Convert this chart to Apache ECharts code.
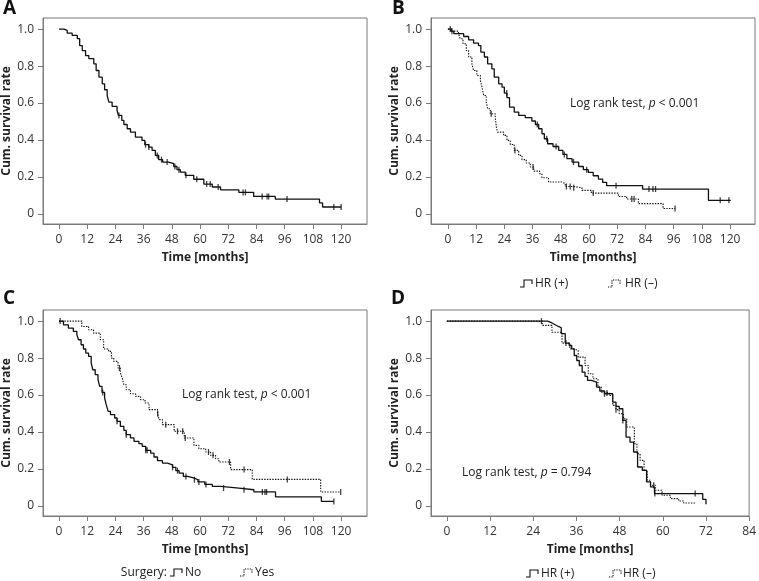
<!DOCTYPE html>
<html><head><meta charset="utf-8">
<script src="https://cdn.jsdelivr.net/npm/echarts@6/dist/echarts.min.js"></script>
<style>html,body{margin:0;padding:0;background:#fff}#c{width:759px;height:581px}</style>
</head><body><div id="c"></div>
<script>
// ---- tick labels ----
const xTicks120 = [0,12,24,36,48,60,72,84,96,108,120];
const xTicks84 = [0,12,24,36,48,60,72,84];
const yTicks = [0,0.2,0.4,0.6,0.8,1.0];

// ---- Panel A: all patients ----
const aTime = [0,2.1,3.5,5.6,7.8,8.8,9.9,11.3,12.7,14.8,15.8,17,18.4,19.4,20.5,21.2,22.6,24.7,25.3,26.7,27.6,29,30.4,32.5,35.3,36.5,38.2,39.6,41,42.4,44.1,46.6,48.8,50.2,51.6,53.7,57.3,61.6,65.2,68.7,76.5,82.8,92,110.8,112.1,120];
const aSurv = [1,0.993,0.978,0.966,0.948,0.911,0.884,0.857,0.84,0.812,0.776,0.74,0.704,0.672,0.641,0.605,0.582,0.56,0.533,0.506,0.484,0.461,0.443,0.416,0.398,0.375,0.362,0.344,0.317,0.294,0.281,0.272,0.257,0.24,0.227,0.209,0.188,0.162,0.146,0.131,0.117,0.095,0.081,0.06,0.038,0.038];
const aCensor = [25.5,36.8,38.2,41.8,43.6,46,49.3,51,54,58.6,62.8,64.3,67.7,78.3,79.3,86.4,88.5,89.2,97,116.9,120];

// ---- Panel B: HR(+) / HR(-) ----
const bPosTime = [0,1.3,2.5,6.7,8.8,10.9,13,14,15.5,16.9,18.7,19.7,21.6,23,24,25.1,26.2,28.2,30.1,32.9,35.7,37.2,38.6,40,41,42.4,44.7,47.1,48.9,50.6,52.8,55.6,57.6,59.7,61.8,64,65.8,67.5,82.8,110.8,120.3];
const bPosSurv = [1,0.989,0.975,0.96,0.942,0.924,0.911,0.875,0.849,0.812,0.785,0.74,0.704,0.686,0.654,0.629,0.578,0.551,0.533,0.521,0.503,0.484,0.461,0.434,0.407,0.38,0.365,0.344,0.322,0.299,0.281,0.257,0.24,0.225,0.207,0.189,0.171,0.153,0.135,0.074,0.074];
const bPosCensor = [1,25,38,42,46,49.5,53.4,59,71.5,85.5,87.2,88.3,115.8,119.5];
const bNegTime = [0,1.7,4.5,5.2,6.4,7.8,8.8,10.2,10.9,12.3,13.8,14.5,15.2,16.3,16.9,18,20.1,20.6,21.1,23.7,25.1,26.5,28.2,30.1,31.5,33.3,35,36.5,39,40,42.8,48.5,49.9,53.5,57,61,72.5,76,81,91.5,96.6];
const bNegSurv = [1,0.989,0.975,0.948,0.921,0.884,0.849,0.812,0.776,0.749,0.722,0.686,0.641,0.605,0.569,0.542,0.524,0.47,0.443,0.425,0.398,0.376,0.344,0.317,0.294,0.276,0.254,0.232,0.218,0.196,0.173,0.164,0.149,0.142,0.128,0.113,0.095,0.081,0.056,0.03,0.03];
const bNegCensor = [1.7,18.4,28.5,36.2,50.4,52,53.5,61.8,78.2,79.2,96.6];

// ---- Panel C: Surgery No / Yes ----
const cNoTime = [0,1.9,4,6.1,7.6,8.3,9.4,10.4,11.4,12.6,13.7,14.4,15.4,16.6,17.3,18.3,19.4,20.1,20.9,21.9,23.7,24.7,26.1,27.6,28.6,30.4,31.9,34,35.4,36.9,39,40.4,41.9,44,46.1,48.3,49.7,51.1,52.9,54.7,57.6,59.1,62,65.2,68.8,76.5,82.9,92.1,111.6,116.9];
const cNoSurv = [1,0.98,0.962,0.944,0.926,0.899,0.872,0.849,0.827,0.809,0.773,0.737,0.71,0.683,0.647,0.614,0.584,0.548,0.512,0.494,0.476,0.458,0.431,0.409,0.386,0.368,0.35,0.337,0.323,0.301,0.286,0.265,0.245,0.232,0.223,0.209,0.191,0.178,0.16,0.151,0.142,0.13,0.117,0.106,0.097,0.088,0.076,0.049,0.025,0.025];
const cNoCensor = [0.5,18.6,24.7,28.6,36.9,37.5,48.3,50.4,54,57.6,59.5,62.5,70,78.7,86.5,87.6,88.3,116.9];
const cYesTime = [0,9.7,12.6,14.7,17.6,19,21.1,22.3,23.3,25.1,26.1,26.9,27.6,28.6,30.4,32.6,34.7,36.6,38.3,41.9,42.6,44,49,53.3,57.4,59.5,62.4,64.5,66.6,68,73,82.2,111.3,119.8];
const cYesSurv = [1,0.971,0.953,0.935,0.899,0.849,0.836,0.8,0.782,0.746,0.719,0.692,0.656,0.629,0.607,0.593,0.575,0.557,0.521,0.499,0.467,0.44,0.404,0.368,0.328,0.31,0.292,0.274,0.256,0.238,0.197,0.144,0.076,0.076];
const cYesCensor = [25.7,42,45.4,50.4,52.6,53.7,63.6,65.5,72.5,78.7,97.1,119.8];

// ---- Panel D: HR(+) / HR(-) ----
const dPosTime = [0,28,29.2,30.1,31,31.8,32.9,34,34.7,35.4,36.1,36.8,37.6,38.4,39.1,40.2,41.6,42.5,43.8,46.1,47,47.9,48.9,49.8,50.9,51.9,53,54.3,55.5,56.6,57.7,71.1,72];
const dPosSurv = [1,0.99,0.98,0.971,0.964,0.932,0.881,0.868,0.85,0.814,0.787,0.76,0.724,0.701,0.679,0.67,0.643,0.622,0.607,0.562,0.539,0.526,0.463,0.373,0.346,0.292,0.211,0.193,0.13,0.103,0.067,0.036,0.01];
const dPosCensor = [26.3,33.1,43.8,48.9,57.8,69];
const dNegTime = [0,26.5,29.2,32,34.2,35.2,36.5,38.4,39.3,40.6,42,42.9,44.1,45.2,46.1,47,47.9,49.1,50,52.1,52.8,53.7,54.8,55.7,56.6,58,59.8,62.1,64.4,65.8,69];
const dNegSurv = [1,0.977,0.94,0.881,0.85,0.841,0.805,0.76,0.715,0.688,0.643,0.616,0.611,0.598,0.544,0.521,0.499,0.472,0.427,0.337,0.283,0.247,0.193,0.139,0.112,0.085,0.058,0.04,0.027,0.016,0.016];
const dNegCensor = [44.5,47,57.5];

// ---- helpers ----
const FONT = '"Open Sans", sans-serif';
const FRAME = '#7a7a7a';
function stepData(t, s) { return t.map((v, i) => [v, s[i]]); }
function survAt(t, s, x) { let v = s[0]; for (let i = 0; i < t.length; i++) { if (t[i] <= x) v = s[i]; } return v; }
function censorData(t, s, c) { return c.map(x => [x, survAt(t, s, x)]); }

const grids = [
  {left: 42, top: 18, width: 325, height: 206},
  {left: 431, top: 18, width: 324, height: 206},
  {left: 42, top: 310, width: 325, height: 206},
  {left: 431, top: 310, width: 322, height: 206}
].map(g => Object.assign({show: true, borderColor: FRAME, borderWidth: 1, backgroundColor: '#fff'}, g));

function xAx(i, min, max, ticks) {
  return {
    type: 'value', gridIndex: i, min: min, max: max, position: 'bottom',
    axisLine: {show: true, onZero: false, lineStyle: {color: FRAME, width: 1}},
    axisTick: {show: true, length: 5, customValues: ticks, lineStyle: {color: FRAME}},
    axisLabel: {customValues: ticks, margin: 10, color: '#333', fontSize: 12, fontFamily: FONT},
    splitLine: {show: false},
    name: 'Time [months]', nameLocation: 'middle', nameGap: 28,
    nameTextStyle: {fontWeight: 'bold', fontSize: 12, color: '#222', fontFamily: FONT}
  };
}
function yAx(i) {
  return {
    type: 'value', gridIndex: i, min: -0.054, max: 1.06, position: 'left',
    axisLine: {show: true, onZero: false, lineStyle: {color: FRAME, width: 1}},
    axisTick: {show: true, length: 5, customValues: yTicks, lineStyle: {color: FRAME}},
    axisLabel: {customValues: yTicks, margin: 9, color: '#333', fontSize: 12, fontFamily: FONT,
      formatter: v => (v === 0 ? '0' : v.toFixed(1))},
    splitLine: {show: false},
    name: 'Cum. survival rate', nameLocation: 'middle', nameGap: 30,
    nameTextStyle: {fontWeight: 'bold', fontSize: 12, color: '#222', fontFamily: FONT}
  };
}
function kmLine(i, t, s, dotted) {
  return {
    type: 'line', xAxisIndex: i, yAxisIndex: i, step: 'end', data: stepData(t, s),
    symbol: 'none', showSymbol: false, silent: true, animation: false, z: 3,
    lineStyle: {color: '#111', width: dotted ? 1.1 : 1.3, type: dotted ? [1.4, 1.3] : 'solid'}
  };
}
function cens(i, t, s, c) {
  return {
    type: 'scatter', xAxisIndex: i, yAxisIndex: i, data: censorData(t, s, c),
    symbol: 'rect', symbolSize: [1.3, 6], itemStyle: {color: '#111'}, silent: true, animation: false, z: 4
  };
}

// graphic helpers
function label(x, y, txt, size, bold) {
  return {type: 'text', left: x, top: y, silent: true,
    style: {text: txt, fill: '#111', font: (bold ? 'bold ' : '') + size + 'px ' + FONT}};
}
function statText(x, y, pv) {
  return {type: 'text', left: x, top: y, silent: true,
    style: {text: '{n|Log rank test, }{i|p}{n| ' + pv + '}',
      rich: {n: {fontSize: 12, fontFamily: FONT, fill: '#222'}, i: {fontSize: 12, fontFamily: FONT, fontStyle: 'italic', fill: '#222'}}}};
}
function glyph(x, y, dotted) {
  return {type: 'polyline', silent: true,
    shape: {points: [[x, y + 7], [x + 4, y + 7], [x + 4, y], [x + 12, y], [x + 12, y + 4]]},
    style: {stroke: '#111', lineWidth: 1.1, fill: null, lineDash: dotted ? [1.2, 1.2] : null}};
}
function legText(x, y, txt, alignRight) {
  return {type: 'text', x: x, y: y, silent: true,
    style: {text: txt, fill: '#222', font: '12px ' + FONT, align: alignRight ? 'right' : 'left', verticalAlign: 'middle'}};
}

const option = {
  animation: false,
  backgroundColor: '#fff',
  grid: grids,
  xAxis: [xAx(0, -6.8, 131, xTicks120), xAx(1, -7.2, 130.6, xTicks120), xAx(2, -6.8, 131, xTicks120), xAx(3, -4.4, 84, xTicks84)],
  yAxis: [yAx(0), yAx(1), yAx(2), yAx(3)],
  series: [
    kmLine(0, aTime, aSurv, false), cens(0, aTime, aSurv, aCensor),
    kmLine(1, bPosTime, bPosSurv, false), cens(1, bPosTime, bPosSurv, bPosCensor),
    kmLine(1, bNegTime, bNegSurv, true), cens(1, bNegTime, bNegSurv, bNegCensor),
    kmLine(2, cNoTime, cNoSurv, false), cens(2, cNoTime, cNoSurv, cNoCensor),
    kmLine(2, cYesTime, cYesSurv, true), cens(2, cYesTime, cYesSurv, cYesCensor),
    kmLine(3, dPosTime, dPosSurv, false), cens(3, dPosTime, dPosSurv, dPosCensor),
    kmLine(3, dNegTime, dNegSurv, true), cens(3, dNegTime, dNegSurv, dNegCensor)
  ],
  graphic: [
    label(3, -1, 'A', 19, true), label(392, -1, 'B', 19, true),
    label(3, 289, 'C', 19, true), label(391, 289, 'D', 19, true),
    statText(570, 98, '< 0.001'), statText(182, 389, '< 0.001'), statText(462, 467, '= 0.794'),
    glyph(520, 280, false), legText(535, 284, 'HR (+)'), glyph(608, 280, true), legText(625, 284, 'HR (\u2013)'),
    legText(167, 573, 'Surgery:', true), glyph(170, 569, false), legText(185, 573, 'No'), glyph(240, 569, true), legText(255, 573, 'Yes'),
    glyph(526, 570, false), legText(541, 574, 'HR (+)'), glyph(609, 570, true), legText(623, 574, 'HR (\u2013)')
  ]
};
const chart = echarts.init(document.getElementById('c'), null, {renderer: 'canvas'});
chart.setOption(option);
</script></body></html>
